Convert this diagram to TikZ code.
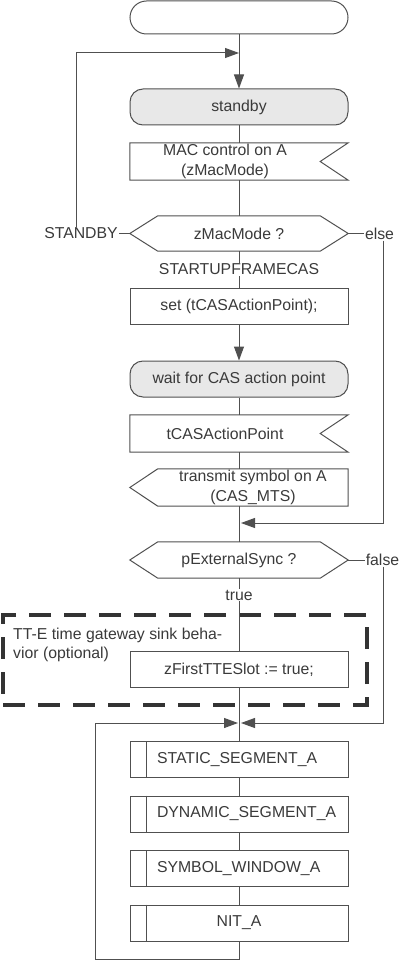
\documentclass[tikz,border=0pt]{standalone}
\usepackage{fontspec}
\setmainfont{Liberation Sans}
\usetikzlibrary{arrows.meta}
\definecolor{ln}{HTML}{505050}
\definecolor{tx}{HTML}{3A3A3A}
\definecolor{gf}{HTML}{E8E8E8}
\definecolor{dsh}{HTML}{333333}
\begin{document}
\begin{tikzpicture}[x=1pt,y=-1pt,
  every node/.style={font=\fontsize{15.8}{19.5}\selectfont, text=tx},
  box/.style={draw=ln, line width=1pt, minimum width=218pt, minimum height=36pt, inner sep=0pt, align=center},
  shp/.style={minimum height=36pt, inner sep=0pt, align=center},
  seg/.style={box, text width=218pt, align=left},
  conn/.style={draw=ln, line width=1pt},
  arr/.style={conn, -{Triangle[length=14pt,width=10pt]}},
  lbl/.style={inner sep=1pt}
]
\useasboundingbox (0,0) rectangle (400,968);

% start terminal
\node[box, minimum height=33pt, rounded corners=16.5pt] (start) at (239,17.5) {};
\coordinate (j1) at (239,53);

% standby state
\node[box, fill=gf, rounded corners=13pt] (standby) at (239,107) {standby};

% input signal MAC control
\node[shp, minimum width=190pt, minimum height=37pt] (mac) at (225,161.5) {MAC control on A\\(zMacMode)};
\draw[conn] (mac.north west) -- ([xshift=28pt]mac.north east) -- (mac.east) -- ([xshift=28pt]mac.south east) -- (mac.south west) -- cycle;

% decision zMacMode
\node[shp, minimum width=162pt, minimum height=35pt] (d1) at (239,233.5) {zMacMode ?};
\coordinate (d1L) at ([xshift=-28pt]d1.west);
\coordinate (d1R) at ([xshift=28pt]d1.east);
\draw[conn] (d1.north west) -- (d1.north east) -- (d1R) -- (d1.south east) -- (d1.south west) -- (d1L) -- cycle;

\node[lbl] (stbyL) at (81,233.5) {STANDBY};
\node[lbl] (elseL) at (379.5,233.5) {else};
\node[lbl] (sfL) at (239,269.5) {STARTUPFRAMECAS};

% set
\node[box] (set) at (239,306) {set (tCASActionPoint);};
% wait
\node[box, fill=gf, rounded corners=13pt] (wait) at (239,379) {wait for CAS action point};

% input signal tCASActionPoint
\node[shp, minimum width=190pt, minimum height=37pt] (tcas) at (225,433.5) {tCASActionPoint};
\draw[conn] (tcas.north west) -- ([xshift=28pt]tcas.north east) -- (tcas.east) -- ([xshift=28pt]tcas.south east) -- (tcas.south west) -- cycle;

% output signal transmit
\node[shp, minimum width=190pt, minimum height=37pt] (tr) at (253,487.5) {transmit symbol on A\\(CAS\_MTS)};
\draw[conn] (tr.north west) -- (tr.north east) -- (tr.south east) -- (tr.south west) -- ([xshift=-28pt]tr.west) -- cycle;

\coordinate (j3) at (239,523);

% decision pExternalSync
\node[shp, minimum width=162pt, minimum height=36pt] (d2) at (239,560) {pExternalSync ?};
\coordinate (d2L) at ([xshift=-28pt]d2.west);
\coordinate (d2R) at ([xshift=28pt]d2.east);
\draw[conn] (d2.north west) -- (d2.north east) -- (d2R) -- (d2.south east) -- (d2.south west) -- (d2L) -- cycle;

\node[inner sep=0.5pt] (falseL) at (382.5,560) {false};
\node[lbl] (trueL) at (239,595) {true};

% optional group
\node[draw=dsh, line width=3.5pt, dash pattern=on 22pt off 13pt, minimum width=364pt, minimum height=90pt, inner sep=0pt] (grp) at (185,660) {};
\node[anchor=north west, align=left, inner sep=0pt] (grpL) at (13,627.5) {TT-E time gateway sink beha-\\vior (optional)};

\node[box] (zf) at (239,669.5) {zFirstTTESlot := true;};

\coordinate (j4) at (239,723);

% segments
\node[seg] (stat) at (239,759.5) {\hspace*{27pt}STATIC\_SEGMENT\_A};
\node[seg] (dyn) at (239,814) {\hspace*{27pt}DYNAMIC\_SEGMENT\_A};
\node[seg] (sym) at (239,868.5) {\hspace*{27pt}SYMBOL\_WINDOW\_A};
\node[box] (nit) at (239,923) {NIT\_A};
\foreach \n in {stat,dyn,sym,nit}
  \draw[conn] ([xshift=17pt]\n.north west) -- ([xshift=17pt]\n.south west);

% connectors
\draw[arr] (start.south) -- (standby.north);
\draw[conn] (standby.south) -- (standby.south |- mac.north);
\draw[conn] (standby.south |- mac.south) -- (d1.north);
\draw[conn] (d1L) -- (stbyL.east);
\draw[arr] ([xshift=-5pt]stbyL.north) |- (j1);
\draw[conn] (d1R) -- (elseL.west);
\draw[arr] ([xshift=4pt]elseL.south) |- ([xshift=2pt]j3);
\draw[conn] (d1.south) -- (sfL.north);
\draw[conn] (sfL.south) -- (set.north);
\draw[arr] (set.south) -- (wait.north);
\draw[conn] (wait.south) -- (wait.south |- tcas.north);
\draw[conn] (wait.south |- tcas.south) -- (wait.south |- tr.north);
\draw[conn] (wait.south |- tr.south) -- (d2.north);
\draw[conn] (d2R) -- (falseL.west);
\draw[arr] ([xshift=1pt]falseL.south) |- ([xshift=2pt]j4);
\draw[conn] (d2.south) -- (trueL.north);
\draw[conn] (trueL.south) -- (zf.north);
\draw[conn] (zf.south) -- (stat.north);
\draw[conn] (stat.south) -- (dyn.north);
\draw[conn] (dyn.south) -- (sym.north);
\draw[conn] (sym.south) -- (nit.north);
\draw[arr] (nit.south) |- (95,959) |- ([xshift=-1pt]j4);
\end{tikzpicture}
\end{document}
